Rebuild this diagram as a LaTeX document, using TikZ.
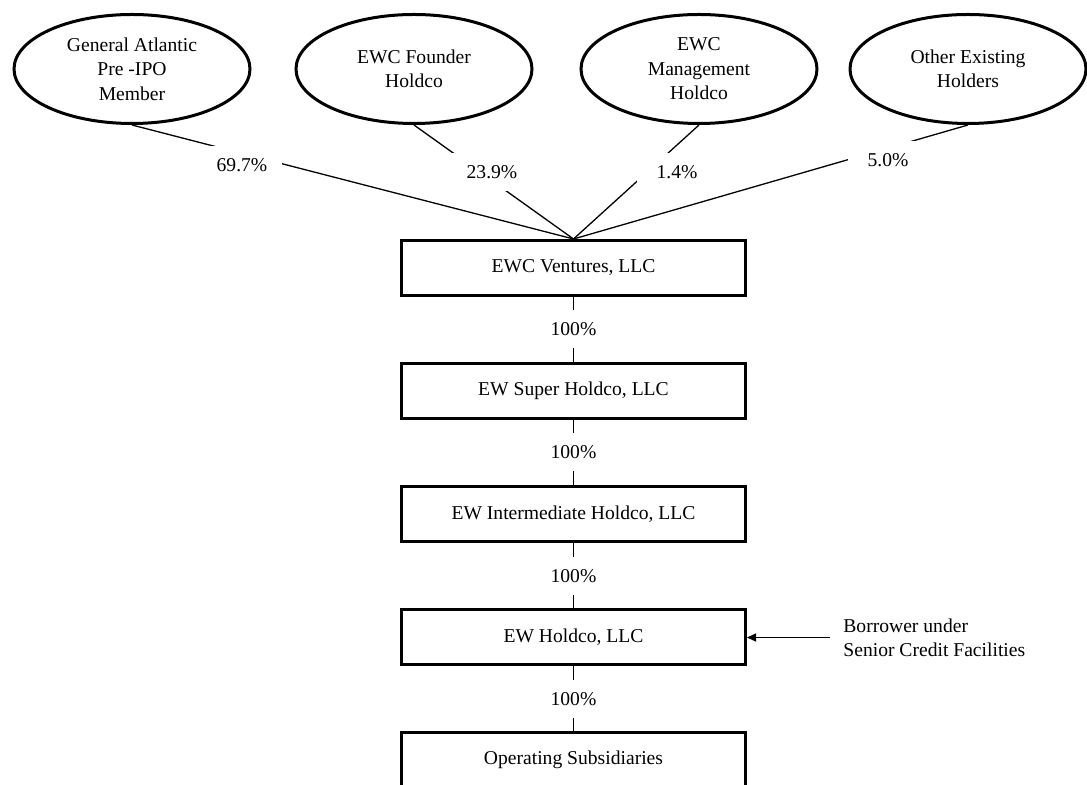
\documentclass[tikz,border=0pt]{standalone}
\usepackage{fontspec}
\setmainfont{Liberation Serif}
\usetikzlibrary{shapes.geometric,arrows.meta}
\begin{document}
\begin{tikzpicture}[x=.5pt,y=-.5pt,
    txt/.style={font=\fontsize{9.8}{12.2}\selectfont},
    holder/.style={txt,draw,ellipse,line width=1.5pt,minimum width=118pt,minimum height=54.5pt,inner sep=0pt,align=center},
    entity/.style={txt,draw,rectangle,line width=1.5pt,minimum width=172pt,minimum height=27.5pt,inner sep=0pt},
    pct/.style={txt,fill=white,minimum width=40pt,minimum height=19pt,inner sep=0pt},
    link/.style={line width=.65pt}]
\useasboundingbox (0,0) rectangle (1087,785);

\foreach \n/\x/\t in {ga/132/{General Atlantic\\Pre -IPO\\Member}, fh/414/{EWC Founder\\Holdco}, mh/699/{EWC\\Management\\Holdco}, oh/968/{Other Existing\\Holders}}
{
    \node[holder] (\n) at (\x,69) {\t};
}

\foreach \i/\y/\t in {1/268/{EWC Ventures, LLC}, 2/391/{EW Super Holdco, LLC}, 3/514/{EW Intermediate Holdco, LLC}, 4/637.5/{EW Holdco, LLC}, 5/760/{Operating Subsidiaries}}
{
    \node[entity] (b\i) at (573.5,\y) {\t};
}

\foreach \n in {ga,fh,mh,oh}
{
    \draw[link] (\n.south) -- (b1.north);
}
\foreach \n/\p/\x/\y in {ga/69.7/242/165, fh/23.9/492/172, mh/1.4/677/172, oh/5.0/888/160}
{
    \node[pct] (\n pct) at (\x,\y) {\p\%};
}

\foreach \i/\j in {1/2,2/3,3/4,4/5}
{
    \draw[link] (b\i) -- (b\j) node[pct,midway] (own\i) {100\%};
}

\node[txt,align=left,anchor=west,inner xsep=6.5pt] (borrower) at (830,637.5) {Borrower under\\Senior Credit Facilities};
\draw[link,-{Triangle[length=4.5pt,width=4pt]}] (borrower.west) -- (b4.east);
\end{tikzpicture}
\end{document}
